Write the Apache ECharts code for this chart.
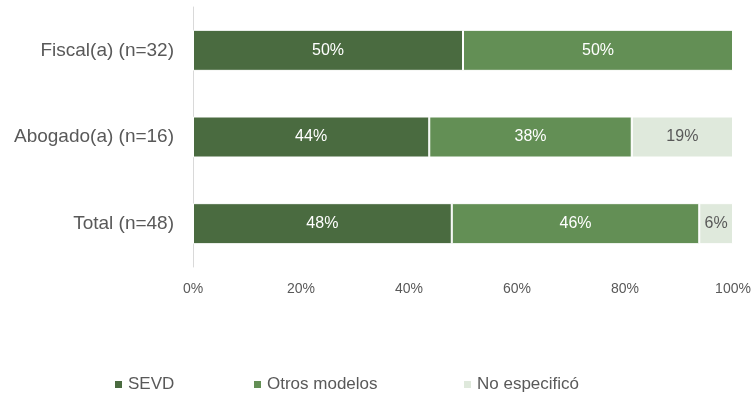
<!DOCTYPE html>
<html><head><meta charset="utf-8">
<script src="https://cdn.jsdelivr.net/npm/echarts@6/dist/echarts.min.js"></script>
<style>html,body{margin:0;padding:0;background:#fff}#c{width:754px;height:397px}</style>
</head><body><div id="c"></div>
<script>
const categories = ['Total (n=48)', 'Abogado(a) (n=16)', 'Fiscal(a) (n=32)'];
const seriesNames = ['SEVD', 'Otros modelos', 'No especificó'];
const sevd = [47.92, 43.75, 50];
const otros = [45.83, 37.5, 50];
const noEsp = [6.25, 18.75, 0];
const xTicks = [0, 20, 40, 60, 80, 100];

const colors = ['#4a6b40', '#638f55', '#dfe9dc'];
const labelColors = ['#ffffff', '#ffffff', '#595959'];
const FONT = 'Liberation Sans';
const chart = echarts.init(document.getElementById('c'));
const mk = (name, data, i) => ({
  name, type: 'bar', stack: 'all', data, barWidth: 41,
  itemStyle: { color: colors[i], borderColor: '#ffffff', borderWidth: 1 },
  label: {
    show: true, position: 'inside', color: labelColors[i], fontFamily: FONT, fontSize: 16,
    formatter: p => p.value > 0 ? Math.round(p.value) + '%' : ''
  }
});
const legendLefts = [113, 252, 462];
chart.setOption({
  animation: false,
  grid: { left: 193, right: 21, top: 7, bottom: 130 },
  xAxis: {
    type: 'value', min: xTicks[0], max: xTicks[xTicks.length - 1], interval: 20,
    axisLine: { show: false }, axisTick: { show: false }, splitLine: { show: false },
    axisLabel: { formatter: '{value}%', color: '#595959', fontFamily: FONT, fontSize: 14, margin: 15 }
  },
  yAxis: {
    type: 'category', data: categories,
    axisLine: { show: true, lineStyle: { color: '#d9d9d9', width: 1 } },
    axisTick: { show: false },
    axisLabel: { color: '#595959', fontFamily: FONT, fontSize: 19, margin: 19 }
  },
  legend: seriesNames.map((n, i) => ({
    data: [n], left: legendLefts[i], top: 376, padding: 0, icon: 'rect', itemWidth: 9, itemHeight: 9, itemGap: 5,
    textStyle: { color: '#595959', fontFamily: FONT, fontSize: 17 }
  })),
  series: [mk(seriesNames[0], sevd, 0), mk(seriesNames[1], otros, 1), mk(seriesNames[2], noEsp, 2)]
});
</script></body></html>
